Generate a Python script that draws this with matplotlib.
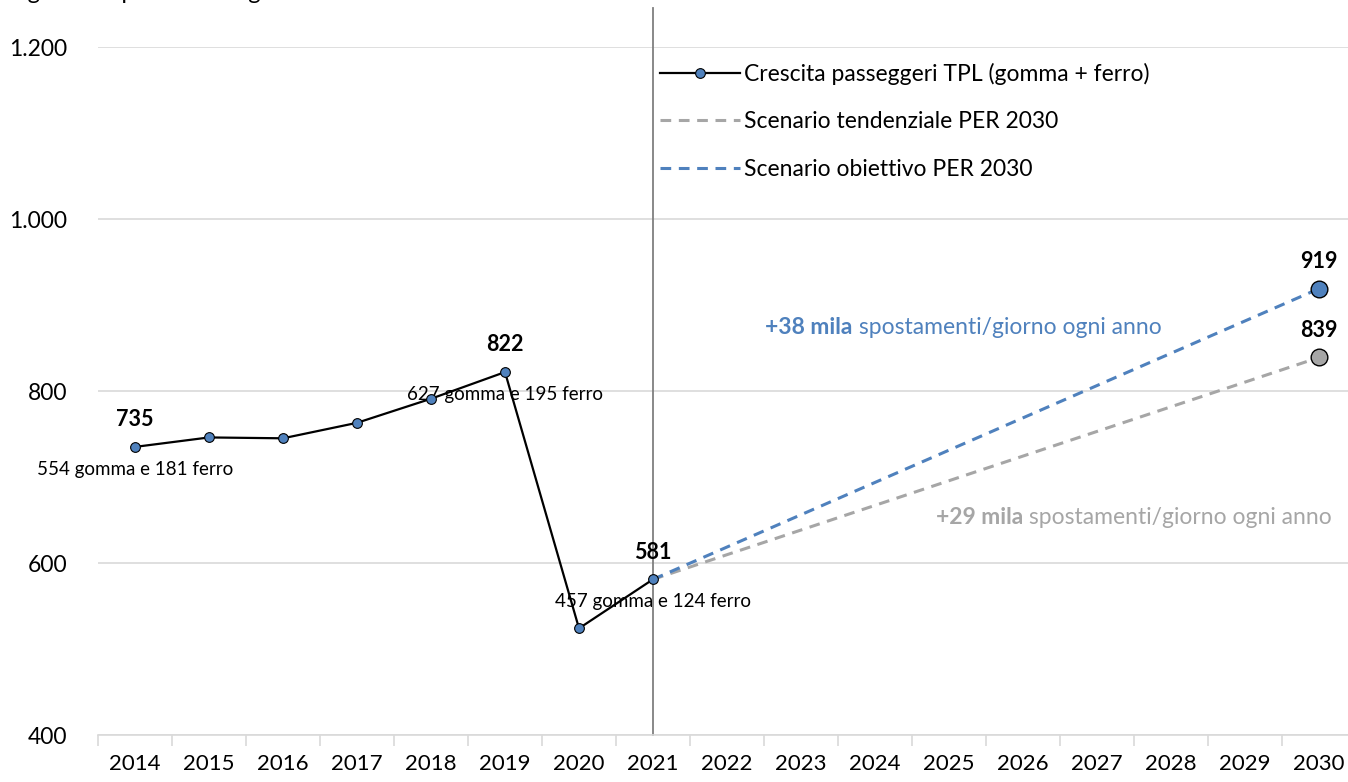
import matplotlib.pyplot as plt
from matplotlib.lines import Line2D
from matplotlib.ticker import FuncFormatter, MultipleLocator

plt.rcParams['font.family'] = ['Lato', 'DejaVu Sans']

years = ['2014', '2015', '2016', '2017', '2018', '2019', '2020', '2021', '2022',
         '2023', '2024', '2025', '2026', '2027', '2028', '2029', '2030']
passeggeri = [735, 746, 745, 763, 791, 822, 524, 581]
tend_x = ['2021', '2030']
tendenziale = [581, 839]
obiettivo = [581, 919]

blue = '#4f81bd'
gray = '#a6a6a6'

fig = plt.figure(figsize=(13.48, 7.82), dpi=100)
ax = fig.add_axes([98/1348, 47/782, 1258/1348, 688/782])

xi = {y: i for i, y in enumerate(years)}
x_act = [xi[y] for y in years[:len(passeggeri)]]
x_sc = [xi[y] for y in tend_x]

ax.plot(x_sc, tendenziale, color=gray, lw=2.2, ls=(0, (3.5, 2.5)), zorder=3)
ax.plot(x_sc, obiettivo, color=blue, lw=2.2, ls=(0, (3.5, 2.5)), zorder=3)
ax.plot(x_act, passeggeri, color='black', lw=1.6, marker='o', ms=7,
        mfc=blue, mec='black', mew=0.8, zorder=4)
ax.plot(x_sc[-1], tendenziale[-1], 'o', ms=12, mfc=gray, mec='black', mew=1, zorder=5)
ax.plot(x_sc[-1], obiettivo[-1], 'o', ms=12, mfc=blue, mec='black', mew=1, zorder=5)

# vertical divider at 2021
ax.plot([xi['2021'], xi['2021']], [400, 1245], color='#7f7f7f', lw=1.3,
        clip_on=False, zorder=2)

ax.set_xlim(-0.5, len(years) - 0.5)
ax.set_ylim(400, 1200)
ax.yaxis.set_major_locator(MultipleLocator(200))
ax.yaxis.set_major_formatter(FuncFormatter(lambda v, p: f'{int(v):,}'.replace(',', '.')))
ax.grid(axis='y', color='#d9d9d9', lw=1.2)
ax.set_axisbelow(True)

ax.set_xticks(range(len(years)))
ax.set_xticklabels(years)
ax.set_xticks([i - 0.5 for i in range(len(years) + 1)], minor=True)
ax.tick_params(axis='x', which='major', length=0, pad=14, labelsize=16)
ax.tick_params(axis='x', which='minor', length=8, color='#d9d9d9', width=1.2)
ax.tick_params(axis='y', length=0, pad=22, labelsize=16.5)
for s in ['top', 'right', 'left']:
    ax.spines[s].set_visible(False)
ax.spines['bottom'].set_color('#d9d9d9')
ax.spines['bottom'].set_linewidth(1.2)

# value labels
for yr, v in [('2014', 735), ('2019', 822), ('2021', 581)]:
    ax.annotate(str(v), (xi[yr], v), xytext=(0, 12), textcoords='offset points',
                ha='center', va='bottom', fontsize=15.5, weight='bold')
for v in [obiettivo[-1], tendenziale[-1]]:
    ax.annotate(str(v), (xi['2030'], v), xytext=(0, 12), textcoords='offset points',
                ha='center', va='bottom', fontsize=15.5, weight='bold')

for yr, v, txt in [('2014', 735, '554 gomma e 181 ferro'),
                   ('2019', 822, '627 gomma e 195 ferro'),
                   ('2021', 581, '457 gomma e 124 ferro')]:
    ax.annotate(txt, (xi[yr], v), xytext=(0, -16), textcoords='offset points',
                ha='center', va='center', fontsize=13.5)

# growth notes
t1 = ax.text(9.7, 874, '+38 mila', color=blue, weight='bold', fontsize=16.5,
             ha='right', va='center')
ax.annotate(' spostamenti/giorno ogni anno', xy=(1, 0), xycoords=t1, ha='left',
            va='bottom', color=blue, fontsize=16.5)
t2 = ax.text(12.0, 653, '+29 mila', color=gray, weight='bold', fontsize=16.5,
             ha='right', va='center')
ax.annotate(' spostamenti/giorno ogni anno', xy=(1, 0), xycoords=t2, ha='left',
            va='bottom', color=gray, fontsize=16.5)

handles = [
    Line2D([], [], color='black', lw=1.6, marker='o', ms=7, mfc=blue, mec='black', mew=0.8),
    Line2D([], [], color=gray, lw=2.2, ls=(0, (3.5, 2.5))),
    Line2D([], [], color=blue, lw=2.2, ls=(0, (3.5, 2.5))),
]
labels = ['Crescita passeggeri TPL (gomma + ferro)',
          'Scenario tendenziale PER 2030',
          'Scenario obiettivo PER 2030']
fig.legend(handles, labels, loc='upper left', bbox_to_anchor=(660/1348, 1 - 63/782),
           frameon=False, fontsize=16.5, handlelength=3.5, handletextpad=0.15,
           labelspacing=1.15, borderpad=0, borderaxespad=0)

fig.text(0.0, 1.0 + 18/782, 'Migliaia di spostamenti/giorno', fontsize=17,
         ha='left', va='top')

fig.savefig('out.png', dpi=100)
